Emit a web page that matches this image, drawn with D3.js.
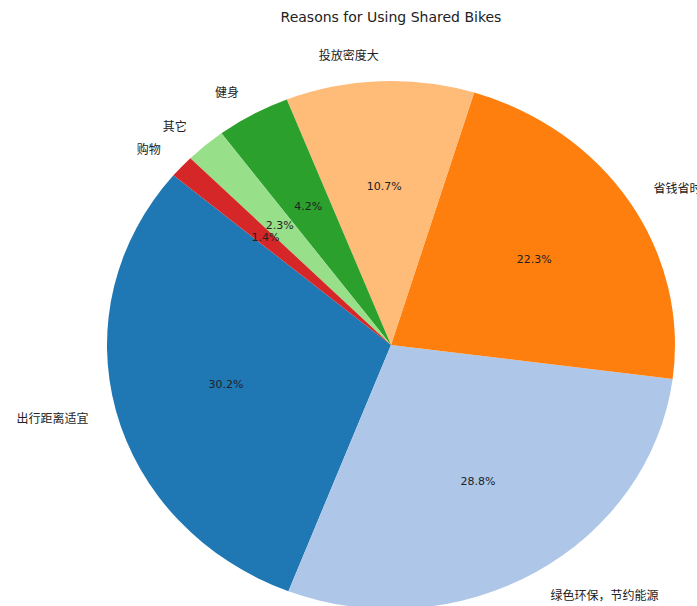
<!DOCTYPE html>
<html>
<head>
<meta charset="utf-8">
<script src="https://cdn.jsdelivr.net/npm/d3@7"></script>
<style>
  html, body { margin: 0; padding: 0; background: #fff; }
  svg { display: block; }
</style>
</head>
<body>
<svg id="chart" width="697" height="606"></svg>
<script>
// Survey reasons and their shares (percent)
const reasons = ["出行距离适宜", "绿色环保，节约能源", "省钱省时", "投放密度大", "健身", "其它", "购物"];
const shares = [30.2, 28.8, 22.3, 10.7, 4.2, 2.3, 1.4];
const sliceColors = ["#1f77b4", "#aec7e8", "#ff7f0e", "#ffbb78", "#2ca02c", "#98df8a", "#d62728"];
const titleText = "Reasons for Using Shared Bikes";

const svg = d3.select("#chart");
const cx = 391, cy = 345;
const rx = 284, ry = 264;       // pie is drawn slightly wider than tall
const R = 100;                  // unit radius, scaled to rx/ry
const startDeg = 140;           // first slice starts here, counter-clockwise

const data = reasons.map((r, i) => ({ reason: r, value: shares[i], color: sliceColors[i] }));
const total = d3.sum(shares);

// angles in math convention (counter-clockwise from +x)
let acc = startDeg;
data.forEach(d => {
  d.a0 = acc;
  d.a1 = acc + d.value / total * 360;
  d.mid = (d.a0 + d.a1) / 2;
  acc = d.a1;
});

// convert to d3.arc angles (clockwise from 12 o'clock): d3 = 90 - math
const toRad = deg => deg * Math.PI / 180;
const arc = d3.arc().innerRadius(0).outerRadius(R);

const pieG = svg.append("g")
  .attr("transform", `translate(${cx},${cy}) scale(${rx / R},${ry / R})`);

pieG.selectAll("path")
  .data(data)
  .join("path")
  .attr("d", d => arc({ startAngle: toRad(90 - d.a1), endAngle: toRad(90 - d.a0) }))
  .attr("fill", d => d.color);

const pos = (deg, f) => [cx + f * rx * Math.cos(toRad(deg)), cy - f * ry * Math.sin(toRad(deg))];

// category labels outside the pie
svg.selectAll("text.lbl")
  .data(data)
  .join("text")
  .attr("class", "lbl")
  .attr("x", d => pos(d.mid, 1.1)[0])
  .attr("y", d => pos(d.mid, 1.1)[1])
  .attr("text-anchor", d => Math.cos(toRad(d.mid)) >= 0 ? "start" : "end")
  .attr("dominant-baseline", "central")
  .attr("font-family", "'Noto Sans CJK SC', sans-serif")
  .attr("font-size", 12)
  .attr("fill", "#222")
  .text(d => d.reason);

// percentage labels inside the slices
svg.selectAll("text.pct")
  .data(data)
  .join("text")
  .attr("class", "pct")
  .attr("x", d => pos(d.mid, 0.6)[0])
  .attr("y", d => pos(d.mid, 0.6)[1])
  .attr("text-anchor", "middle")
  .attr("dominant-baseline", "central")
  .attr("font-family", "'DejaVu Sans', sans-serif")
  .attr("font-size", 11)
  .attr("fill", "#222")
  .text(d => d.value.toFixed(1) + "%");

svg.append("text")
  .attr("x", cx)
  .attr("y", 17)
  .attr("text-anchor", "middle")
  .attr("dominant-baseline", "central")
  .attr("font-family", "'DejaVu Sans', sans-serif")
  .attr("font-size", 14)
  .attr("fill", "#222")
  .text(titleText);
</script>
</body>
</html>
